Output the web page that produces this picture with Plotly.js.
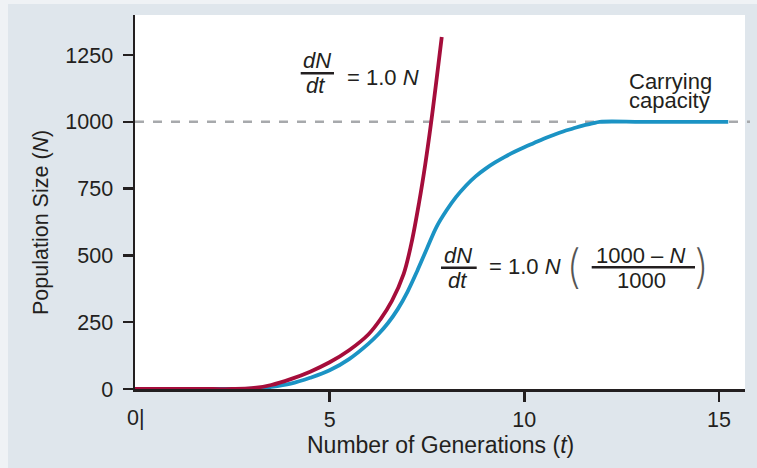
<!DOCTYPE html>
<html>
<head>
<meta charset="utf-8">
<script src="https://cdn.plot.ly/plotly-3.0.1.min.js"></script>
<style>html,body{margin:0;padding:0;background:#dfe6ec;}#chart{width:757px;height:468px;}</style>
</head>
<body>
<div id="chart"></div>
<script>
// ---- data ----
// exponential growth curve (dN/dt = 1.0 N)
const tExp = [0, 1, 2, 2.5, 3.0, 3.5, 4.0, 4.5, 5.0, 5.5, 6.0, 6.3, 6.6, 6.9, 7.1, 7.3, 7.45, 7.6, 7.88];
const nExp = [0, 0, 0, 0, 3, 15, 37, 65, 100, 145, 205, 260, 330, 430, 545, 700, 835, 990, 1318];
// logistic growth curve
const tLog = [0, 1, 2, 2.5, 3.0, 3.5, 4.0, 4.5, 5.0, 5.5, 6.0, 6.25, 6.5, 6.75, 7.0, 7.25, 7.5, 7.75, 8.0, 8.25, 8.5, 8.75, 9.0, 9.25, 9.5, 9.75, 10.0, 10.25, 10.5, 10.75, 11.0, 11.25, 11.5, 11.75, 11.94, 13, 14, 15.24];
const nLog = [0, 0, 0, 0, 1, 8, 20, 42, 70, 112, 170, 205, 247, 299, 364, 442, 526, 608, 668, 719, 761, 796, 824, 848, 869, 888, 905, 921, 937, 951, 964, 975, 986, 994, 1000, 1000, 1000, 1000];
const capacity = 1000;
const xTickVals = [5, 10, 15];
const yTickVals = [0, 250, 500, 750, 1000, 1250];
const xTitle = 'Number of Generations (<i>t</i>)';
const yTitle = 'Population Size (<i>N</i>)';

// ---- layout helpers (pixel -> paper) ----
const L = 135, R = 12, T = 15, B = 79, W = 757, H = 468;
const PW = W - L - R, PH = H - T - B;
const px = v => (v - L) / PW;
const py = v => (H - B - v) / PH;
const ink = '#231f20';
const FONT = 'Liberation Sans, Arial, Helvetica, sans-serif';

function txt(text, x, y, size, opts) {
  return Object.assign({
    text: text, xref: 'paper', yref: 'paper', x: px(x), y: py(y),
    xanchor: 'center', yanchor: 'middle', showarrow: false,
    font: {family: FONT, size: size, color: ink}
  }, opts || {});
}
function bar(x0, x1, y) {
  return {type: 'line', xref: 'paper', yref: 'paper', x0: px(x0), x1: px(x1), y0: py(y), y1: py(y),
          line: {color: ink, width: 2.5}, layer: 'above'};
}
const parenFont = {family: 'Inter, ' + FONT, size: 46, color: '#555', weight: 200};

const traces = [
  {x: tLog, y: nLog, type: 'scatter', mode: 'lines', line: {color: '#1b93c4', width: 3.8, shape: 'spline', smoothing: 1}, hoverinfo: 'skip'},
  {x: tExp, y: nExp, type: 'scatter', mode: 'lines', line: {color: '#a50d3b', width: 3.8, shape: 'spline', smoothing: 1}, hoverinfo: 'skip'}
];

const axisCommon = {
  showgrid: false, zeroline: false, showline: true, linecolor: ink, linewidth: 2.5,
  ticks: 'outside', ticklen: 10, tickwidth: 2.5, tickcolor: ink,
  tickfont: {family: FONT, size: 21.5, color: ink}, fixedrange: true
};

const layout = {
  width: W, height: H,
  margin: {l: L, r: R, t: T, b: B, pad: 0},
  paper_bgcolor: '#dfe6ec', plot_bgcolor: '#ffffff',
  showlegend: false,
  xaxis: Object.assign({}, axisCommon, {range: [0, 15.67], tickvals: xTickVals, ticklabelstandoff: 0}),
  yaxis: Object.assign({}, axisCommon, {range: [0, 1400], tickvals: yTickVals, ticklabelstandoff: 5}),
  shapes: [
    {type: 'rect', xref: 'paper', yref: 'paper', x0: -0.3, x1: 1.1, y0: py(4), y1: 1.2, fillcolor: '#eff2f5', line: {width: 0}, layer: 'below'},
    {type: 'rect', xref: 'paper', yref: 'paper', x0: -0.3, x1: px(8), y0: -0.3, y1: 1.2, fillcolor: '#eff2f5', line: {width: 0}, layer: 'below'},
    {type: 'line', xref: 'paper', yref: 'y', x0: 0, x1: px(750), y0: capacity, y1: capacity,
     line: {color: '#a7a9ac', width: 2.5, dash: '9px,9px'}, layer: 'below'},
    bar(300.7, 334, 73.3),
    bar(441, 476.7, 267.7),
    bar(591.7, 695, 267.3)
  ],
  annotations: [
    txt(xTitle, 440, 445, 23),
    txt(yTitle, 41, 223, 21.5, {textangle: -90}),
    txt('0|', 135.5, 418, 21.5),
    // exponential equation
    txt('<i>dN</i>', 316.7, 60.3, 22),
    txt('<i>dt</i>', 315, 85.3, 22),
    txt('= 1.0 <i>N</i>', 345, 77.5, 22, {xanchor: 'left'}),
    // logistic equation
    txt('<i>dN</i>', 458, 255.3, 22),
    txt('<i>dt</i>', 457, 280.3, 22),
    txt('= 1.0 <i>N</i>', 486.7, 266.5, 22, {xanchor: 'left'}),
    txt('(', 573, 266, 46, {font: parenFont}),
    txt('1000 \u2013 <i>N</i>', 640, 255.3, 22),
    txt('1000', 641, 280.3, 22),
    txt(')', 701.5, 266, 46, {font: parenFont}),
    // carrying capacity label
    txt('Carrying', 670, 81.5, 22),
    txt('capacity', 669, 100, 22)
  ]
};

Plotly.newPlot('chart', traces, layout, {staticPlot: true, displayModeBar: false});
</script>
</body>
</html>
